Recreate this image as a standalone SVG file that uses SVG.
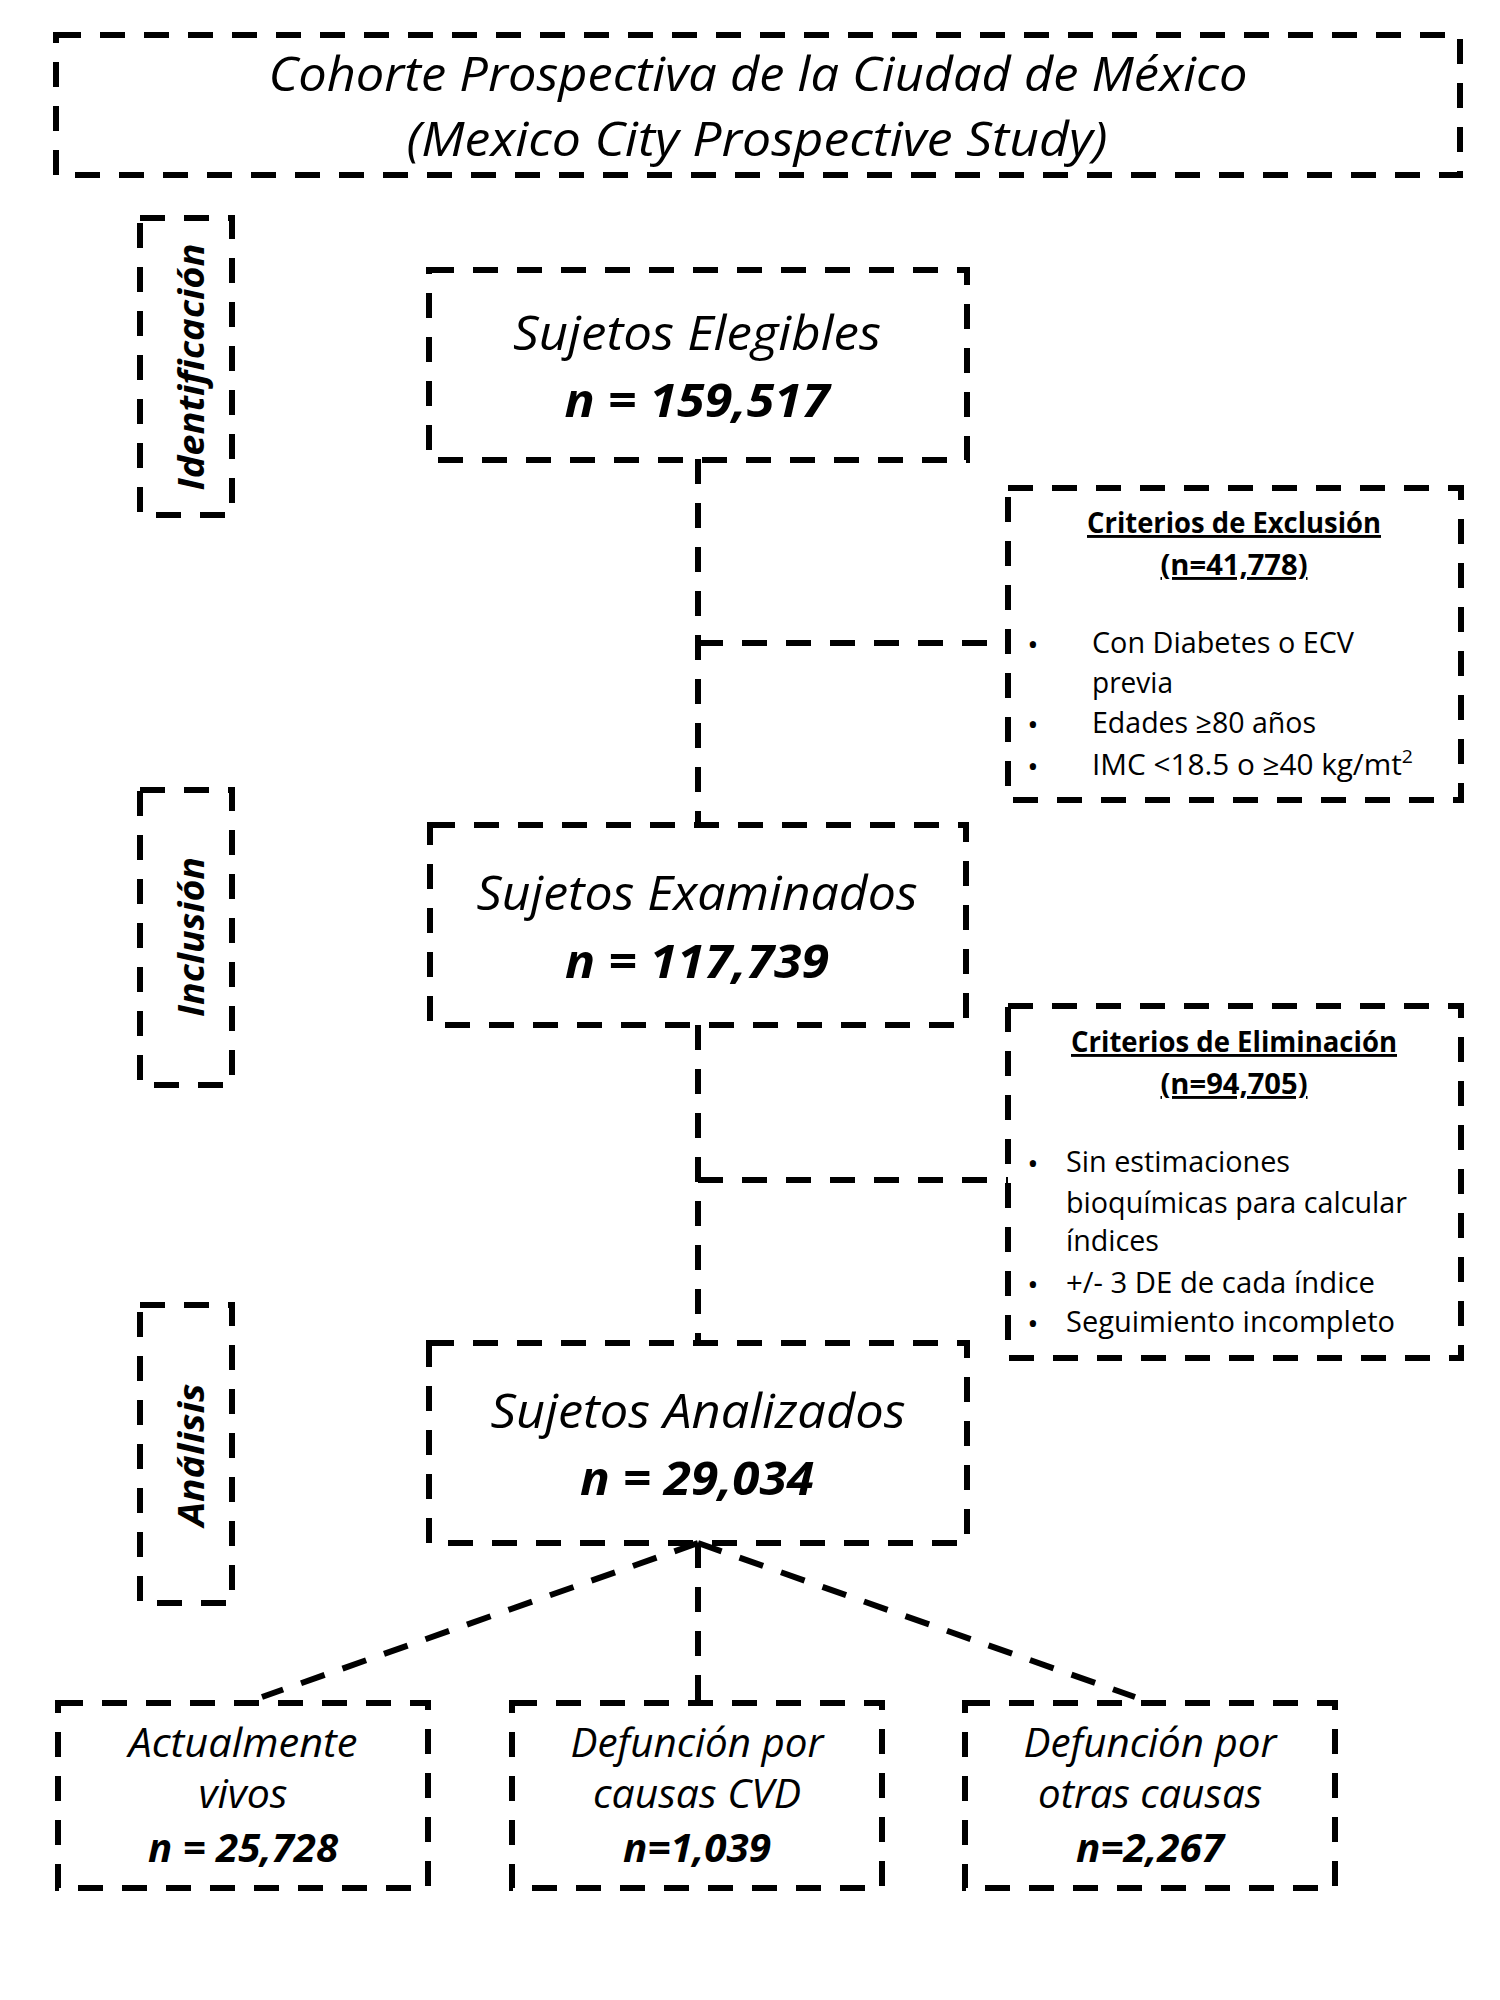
<svg xmlns="http://www.w3.org/2000/svg" width="1500" height="2000" viewBox="0 0 1500 2000">
<style>
.box{fill:none;stroke:#000;stroke-width:6;stroke-dasharray:25 19}
.con{fill:none;stroke:#000;stroke-width:6;stroke-dasharray:25 19}
text{font-family:"Open Sans","Noto Sans","DejaVu Sans",sans-serif;fill:#000}
.it{font-style:italic}
.bi{font-style:italic;font-weight:bold}
.big{font-size:47px}
.mid{font-size:40px}
.ttl{font-size:47px}
.side{font-size:36px;font-style:italic;font-weight:bold}
.crit{font-size:29px}
.bul{font-size:30px}
.hd{font-size:29px;font-weight:bold;text-decoration:underline}
</style>
<rect width="1500" height="2000" fill="#fff"/>

<g id="connectors">
<path class="con" d="M698 459 V825"/>
<path class="con" d="M698 643 H1008"/>
<path class="con" d="M698 1025 V1343"/>
<path class="con" d="M698 1180 H1008"/>
<path class="con" d="M698 1543 V1700"/>
<path class="con" d="M698 1543 L262 1697"/>
<path class="con" d="M698 1543 L1135 1697"/>
</g>

<g id="title">
<rect class="box" x="56" y="35" width="1404" height="140"/>
<text class="it ttl" x="758" y="91" text-anchor="middle" textLength="979" lengthAdjust="spacingAndGlyphs">Cohorte Prospectiva de la Ciudad de México</text>
<text class="it ttl" x="757" y="156" text-anchor="middle" textLength="701" lengthAdjust="spacingAndGlyphs">(Mexico City Prospective Study)</text>
</g>

<g id="side-identificacion">
<rect class="box" x="140" y="218" width="92" height="297"/>
<text class="side" transform="translate(204 367) rotate(-90)" text-anchor="middle" textLength="247" lengthAdjust="spacingAndGlyphs">Identificación</text>
</g>
<g id="side-inclusion">
<rect class="box" x="140" y="790" width="92" height="295"/>
<text class="side" transform="translate(204 937) rotate(-90)" text-anchor="middle" textLength="160" lengthAdjust="spacingAndGlyphs">Inclusión</text>
</g>
<g id="side-analisis">
<rect class="box" x="140" y="1305" width="92" height="298"/>
<text class="side" transform="translate(204 1455) rotate(-90)" text-anchor="middle" textLength="143" lengthAdjust="spacingAndGlyphs">Análisis</text>
</g>

<g id="elegibles">
<rect class="box" x="429" y="270" width="538" height="190"/>
<text class="it big" x="697" y="350" text-anchor="middle" textLength="368" lengthAdjust="spacingAndGlyphs">Sujetos Elegibles</text>
<text class="bi big" x="697" y="417" text-anchor="middle" textLength="265" lengthAdjust="spacingAndGlyphs">n = 159,517</text>
</g>

<g id="examinados">
<rect class="box" x="430" y="825" width="536" height="200"/>
<text class="it big" x="697" y="910" text-anchor="middle" textLength="441" lengthAdjust="spacingAndGlyphs">Sujetos Examinados</text>
<text class="bi big" x="697" y="978" text-anchor="middle" textLength="264" lengthAdjust="spacingAndGlyphs">n = 117,739</text>
</g>

<g id="analizados">
<rect class="box" x="429" y="1343" width="538" height="200"/>
<text class="it big" x="698" y="1428" text-anchor="middle" textLength="415" lengthAdjust="spacingAndGlyphs">Sujetos Analizados</text>
<text class="bi big" x="697" y="1495" text-anchor="middle" textLength="234" lengthAdjust="spacingAndGlyphs">n = 29,034</text>
</g>

<g id="exclusion">
<rect class="box" x="1008" y="488" width="453" height="312"/>
<text class="hd" x="1234" y="533" text-anchor="middle" textLength="294" lengthAdjust="spacingAndGlyphs">Criterios de Exclusión</text>
<text class="hd" x="1234" y="575" text-anchor="middle" textLength="147" lengthAdjust="spacingAndGlyphs">(n=41,778)</text>
<text class="bul" x="1033" y="655" text-anchor="middle">•</text>
<text class="crit" x="1092" y="653" textLength="262" lengthAdjust="spacingAndGlyphs">Con Diabetes o ECV</text>
<text class="crit" x="1092" y="693" textLength="81" lengthAdjust="spacingAndGlyphs">previa</text>
<text class="bul" x="1033" y="735" text-anchor="middle">•</text>
<text class="crit" x="1092" y="733" textLength="224" lengthAdjust="spacingAndGlyphs">Edades ≥80 años</text>
<text class="bul" x="1033" y="777" text-anchor="middle">•</text>
<text class="crit" x="1092" y="775" textLength="321" lengthAdjust="spacingAndGlyphs">IMC &lt;18.5 o ≥40 kg/mt<tspan font-size="19" dy="-12">2</tspan></text>
</g>

<g id="eliminacion">
<rect class="box" x="1008" y="1006" width="453" height="352"/>
<text class="hd" x="1234" y="1052" text-anchor="middle" textLength="326" lengthAdjust="spacingAndGlyphs">Criterios de Eliminación</text>
<text class="hd" x="1234" y="1094" text-anchor="middle" textLength="147" lengthAdjust="spacingAndGlyphs">(n=94,705)</text>
<text class="bul" x="1033" y="1174" text-anchor="middle">•</text>
<text class="crit" x="1066" y="1172" textLength="224" lengthAdjust="spacingAndGlyphs">Sin estimaciones</text>
<text class="crit" x="1066" y="1213" textLength="341" lengthAdjust="spacingAndGlyphs">bioquímicas para calcular</text>
<text class="crit" x="1066" y="1251" textLength="93" lengthAdjust="spacingAndGlyphs">índices</text>
<text class="bul" x="1033" y="1295" text-anchor="middle">•</text>
<text class="crit" x="1066" y="1293" textLength="309" lengthAdjust="spacingAndGlyphs">+/- 3 DE de cada índice</text>
<text class="bul" x="1033" y="1334" text-anchor="middle">•</text>
<text class="crit" x="1066" y="1332" textLength="329" lengthAdjust="spacingAndGlyphs">Seguimiento incompleto</text>
</g>

<g id="vivos">
<rect class="box" x="58" y="1703" width="370" height="185"/>
<text class="it mid" x="243" y="1757" text-anchor="middle" textLength="229" lengthAdjust="spacingAndGlyphs">Actualmente</text>
<text class="it mid" x="243" y="1808" text-anchor="middle" textLength="89" lengthAdjust="spacingAndGlyphs">vivos</text>
<text class="bi mid" x="243" y="1862" text-anchor="middle" textLength="190" lengthAdjust="spacingAndGlyphs">n = 25,728</text>
</g>

<g id="cvd">
<rect class="box" x="512" y="1703" width="370" height="185"/>
<text class="it mid" x="697" y="1757" text-anchor="middle" textLength="253" lengthAdjust="spacingAndGlyphs">Defunción por</text>
<text class="it mid" x="697" y="1808" text-anchor="middle" textLength="208" lengthAdjust="spacingAndGlyphs">causas CVD</text>
<text class="bi mid" x="697" y="1862" text-anchor="middle" textLength="148" lengthAdjust="spacingAndGlyphs">n=1,039</text>
</g>

<g id="otras">
<rect class="box" x="965" y="1703" width="370" height="185"/>
<text class="it mid" x="1150" y="1757" text-anchor="middle" textLength="253" lengthAdjust="spacingAndGlyphs">Defunción por</text>
<text class="it mid" x="1150" y="1808" text-anchor="middle" textLength="224" lengthAdjust="spacingAndGlyphs">otras causas</text>
<text class="bi mid" x="1150" y="1862" text-anchor="middle" textLength="148" lengthAdjust="spacingAndGlyphs">n=2,267</text>
</g>
</svg>
